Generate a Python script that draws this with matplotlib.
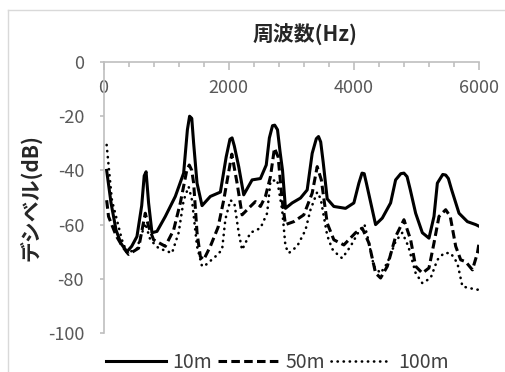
import numpy as np
import matplotlib.pyplot as plt
from matplotlib.lines import Line2D
from matplotlib.ticker import MultipleLocator

plt.rcParams['font.family'] = ['Noto Sans CJK JP', 'DejaVu Sans']
plt.rcParams['axes.unicode_minus'] = False

# 10m (solid)
freq_10m = [50, 120, 200, 280, 374, 450, 534, 610, 650, 680, 720, 774, 854, 987, 1147, 1280,
            1340, 1375, 1410, 1440, 1494, 1574, 1707, 1867, 1960, 2020, 2054, 2090, 2160,
            2240, 2374, 2507, 2600, 2650, 2700, 2735, 2780, 2820, 2860, 2907, 3014, 3147,
            3254, 3334, 3400, 3435, 3470, 3510, 3574, 3680, 3867, 4000, 4080, 4130, 4165,
            4200, 4347, 4454, 4587, 4667, 4750, 4800, 4850, 4900, 4987, 5094, 5200, 5280,
            5334, 5420, 5467, 5510, 5560, 5680, 5814, 5947, 6000]
db_10m = [-40, -52, -62, -67, -70, -68, -64.4, -53, -42, -40.5, -52, -63, -62.5, -57, -49.6, -41,
          -25, -20, -20.8, -30, -44.7, -53, -49.6, -48, -35, -28.5, -28, -31, -38.6,
          -49, -43.5, -43, -38, -28, -23.5, -23.3, -25, -33, -40, -54, -52, -50.2,
          -47.2, -33.7, -28.3, -27.5, -29.5, -37, -50.5, -53.3, -54, -52, -44.7, -41, -41.2,
          -44.7, -60, -57.6, -52, -43.5, -41.2, -41, -42.3, -47, -55.8, -63, -65, -57,
          -44.7, -41.5, -41.7, -43, -47, -55.8, -58.9, -60, -60.6]

# 50m (dashed)
freq_50m = [50, 80, 200, 300, 400, 560, 667, 720, 800, 987, 1120, 1227, 1330, 1370, 1410, 1440,
            1494, 1547, 1600, 1707, 1830, 1920, 2050, 2134, 2214, 2347, 2427, 2507, 2587,
            2667, 2731, 2790, 2854, 2907, 3040, 3200, 3334, 3414, 3480, 3574, 3680, 3840,
            4027, 4134, 4240, 4347, 4427, 4534, 4667, 4800, 4907, 4987, 5094, 5200, 5280,
            5360, 5467, 5540, 5627, 5707, 5787, 5894, 5974, 6000]
db_50m = [-51, -57, -64, -68, -71, -68.7, -55.8, -60.7, -65.6, -68, -62, -52, -40, -38, -40, -44.7,
          -63, -71.8, -73, -68, -61, -51, -34, -44.7, -56.4, -53.3, -51.5, -53.3, -49.6,
          -42.3, -31.8, -35, -51, -60, -58.9, -56.4, -48.4, -38.6, -43.5, -59.5, -65.6, -67.5,
          -63, -61.3, -66.8, -77.9, -79.7, -75.4, -64.4, -58.2, -65.6, -75.4, -77.9, -76, -66.8,
          -57, -54.5, -57, -68, -73, -73.7, -76.7, -70.5, -66.8]

# 100m (dotted)
freq_100m = [50, 134, 294, 374, 530, 667, 747, 880, 1094, 1200, 1280, 1360, 1414, 1494, 1574,
             1627, 1787, 1894, 1947, 2027, 2090, 2160, 2214, 2347, 2507, 2614, 2667, 2774,
             2854, 2907, 2960, 3094, 3227, 3307, 3414, 3470, 3574, 3654, 3760, 3814, 3947,
             4080, 4170, 4230, 4320, 4427, 4534, 4667, 4774, 4870, 4987, 5094, 5227, 5334,
             5440, 5547, 5654, 5734, 5840, 5974, 6000]
db_100m = [-30.6, -51, -65.6, -70.5, -69, -59.5, -65.6, -68.7, -70.5, -63, -51, -46, -51, -68, -75.4,
           -75, -71.8, -69.3, -58, -51, -52, -63, -69.3, -63, -61.3, -55.8, -44, -43.5,
           -54.5, -68, -70.5, -68, -62, -54.5, -48, -50.5, -64, -69, -71.5, -72.4, -68,
           -62.5, -60, -65.6, -75.4, -77.9, -74.2, -66.2, -63, -68, -77.9, -81.6, -79.7, -73,
           -70.5, -70.5, -74.2, -82.8, -83.4, -84, -84]

labels = ["10m", "50m", "100m"]
GRAY = "#BFBFBF"
TXT = "#595959"

fig = plt.figure(figsize=(5.05, 3.72), dpi=100, facecolor="white")
ax = fig.add_axes([0.205, 0.1048, 0.7436, 0.7285])

ax.plot(freq_10m, db_10m, color="black", lw=2.2, solid_joinstyle="round", label=labels[0])
ax.plot(freq_50m, db_50m, color="black", lw=2.2, linestyle=(0, (2.8, 1.4)), label=labels[1])
ax.plot(freq_100m, db_100m, color="black", lw=1.9, linestyle=(0, (0.1, 2.2)),
        dash_capstyle="round", label=labels[2])

ax.set_xlim(0, 6000)
ax.set_ylim(-100, 0)
ax.spines[["right", "bottom"]].set_visible(False)
ax.spines[["left", "top"]].set_color(GRAY)
ax.spines[["left", "top"]].set_linewidth(1.2)

ax.xaxis.set_major_locator(MultipleLocator(2000))
ax.xaxis.set_minor_locator(MultipleLocator(400))
ax.yaxis.set_major_locator(MultipleLocator(20))
ax.tick_params(axis="x", which="both", bottom=False, labelbottom=False, top=True,
               labeltop=True, direction="in", color=GRAY, width=1.2)
ax.tick_params(axis="x", which="major", length=5.5, pad=-25, labelsize=13, labelcolor=TXT)
ax.tick_params(axis="x", which="minor", length=3.5)
ax.tick_params(axis="y", direction="out", length=3, color=GRAY, width=1.2, pad=11,
               labelsize=13, labelcolor=TXT)

fig.text(305 / 505, 1 - 35 / 372, "周波数(Hz)", ha="center", va="center",
         fontsize=15, fontweight="bold", color="#262626")
fig.text(30 / 505, 1 - 198 / 372, "デシベル(dB)", ha="center", va="center", rotation=90,
         fontsize=15, fontweight="bold", color="#262626")

fig.legend(loc="center", bbox_to_anchor=(277 / 505, 1 - 362 / 372), ncol=3, frameon=False,
           fontsize=14, handlelength=3.1, handletextpad=0.35, columnspacing=0.3,
           labelcolor="#404040", borderaxespad=0, borderpad=0)

# chart area border (top / left edges are visible)
fig.add_artist(Line2D([8 / 505, 1.0], [1 - 10 / 372, 1 - 10 / 372], color="#D9D9D9", lw=1))
fig.add_artist(Line2D([8 / 505, 8 / 505], [0, 1 - 10 / 372], color="#D9D9D9", lw=1))

fig.savefig("out.png", dpi=100, facecolor="white")
